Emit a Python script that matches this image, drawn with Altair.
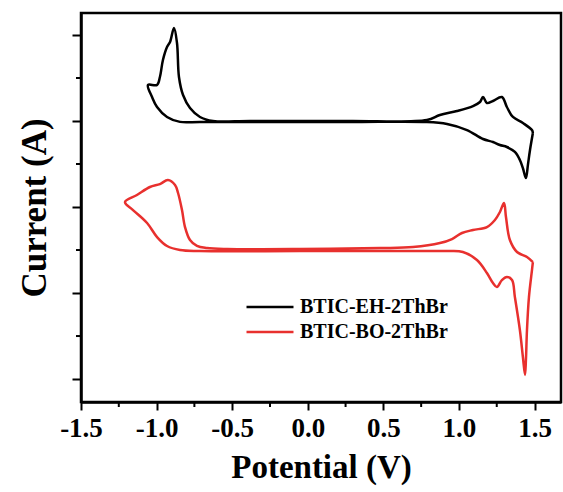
import altair as alt
import pandas as pd

series_names = ["BTIC-EH-2ThBr", "BTIC-BO-2ThBr"]
series_colors = ["#000000", "#e8302e"]

eh_potential = [1.489, 1.470, 1.456, 1.443, 1.423, 1.403, 1.370, 1.317, 1.271, 1.225,
                1.159, 1.053, 0.921, 0.788, 0.279, -0.382, -0.713, -0.845, -0.931, -0.997,
                -1.030, -1.057, -0.997, -0.978, -0.958, -0.931, -0.911, -0.885, -0.865, -0.852,
                -0.825, -0.779, -0.713, -0.627, -0.382, 0.279, 0.788, 0.874, 0.987, 1.093,
                1.139, 1.159, 1.185, 1.225, 1.284, 1.317, 1.357, 1.423, 1.483, 1.489]
eh_current = [2.860, 2.663, 2.488, 2.337, 2.453, 2.547, 2.640, 2.698, 2.721, 2.756,
              2.791, 2.895, 2.965, 2.988, 2.988, 2.988, 2.990, 2.990, 3.047, 3.163,
              3.279, 3.419, 3.419, 3.512, 3.709, 3.860, 3.919, 4.081, 3.907, 3.512,
              3.302, 3.151, 3.047, 3.000, 3.000, 3.000, 3.012, 3.070, 3.116, 3.174,
              3.221, 3.279, 3.209, 3.233, 3.279, 3.163, 3.047, 2.977, 2.895, 2.860]

bo_potential = [1.489, 1.483, 1.463, 1.450, 1.443, 1.437, 1.423, 1.403, 1.370, 1.351,
                1.317, 1.284, 1.251, 1.225, 1.185, 1.119, 1.026, 0.921, 0.478, -0.052,
                -0.713, -0.845, -0.931, -0.997, -1.063, -1.156, -1.209, -1.130, -1.044, -0.978,
                -0.925, -0.878, -0.858, -0.832, -0.812, -0.779, -0.733, -0.667, -0.534, -0.052,
                0.478, 0.696, 0.874, 0.954, 1.020, 1.093, 1.185, 1.238, 1.271, 1.298,
                1.311, 1.337, 1.384, 1.450, 1.489]
bo_current = [1.360, 1.267, 0.953, 0.570, 0.221, 0.047, 0.256, 0.570, 0.953, 1.151,
              1.186, 1.151, 1.070, 1.116, 1.233, 1.384, 1.477, 1.488, 1.488, 1.488,
              1.488, 1.500, 1.547, 1.651, 1.814, 1.965, 2.058, 2.140, 2.233, 2.267,
              2.314, 2.256, 2.163, 1.965, 1.767, 1.616, 1.547, 1.523, 1.512, 1.512,
              1.523, 1.535, 1.581, 1.628, 1.698, 1.733, 1.767, 1.849, 1.942, 2.047,
              1.884, 1.616, 1.477, 1.419, 1.360]

x_major = [-1.5, -1.0, -0.5, 0.0, 0.5, 1.0, 1.5]
x_minor = [-1.25, -0.75, -0.25, 0.25, 0.75, 1.25]
y_major = [0, 1, 2, 3, 4]
y_minor = [0.5, 1.5, 2.5, 3.5]

rows = []
for name, pots, curs in [(series_names[0], eh_potential, eh_current),
                         (series_names[1], bo_potential, bo_current)]:
    for i, (p, c) in enumerate(zip(pots, curs)):
        rows.append({"series": name, "order": i, "potential": p, "current": c})
df = pd.DataFrame(rows)

W, H = 480, 389
FONT = "Liberation Serif"
xscale = alt.Scale(domain=[-1.5, 1.675], nice=False, zero=False)
yscale = alt.Scale(domain=[-0.267, 4.256], nice=False, zero=False)

lines = alt.Chart(df).mark_line(strokeWidth=2.5, strokeJoin="round",
                                interpolate="catmull-rom").encode(
    x=alt.X("potential:Q", scale=xscale,
            axis=alt.Axis(values=x_major, title="Potential (V)",
                          labelExpr="replace(format(datum.value, '.1f'), '\u2212', '-')",
                          labelFlush=False, labelOverlap=False,
                          tickSize=8, tickWidth=2, labelPadding=5,
                          labelFontSize=27, titleFontSize=33, titlePadding=10)),
    y=alt.Y("current:Q", scale=yscale,
            axis=alt.Axis(values=y_major, labels=False, title="Current (A)",
                          tickSize=9, tickWidth=2, titleFontSize=35, titlePadding=19)),
    color=alt.Color("series:N",
                    scale=alt.Scale(domain=series_names, range=series_colors),
                    legend=alt.Legend(orient="none", legendX=176, legendY=281, title=None,
                                      symbolType="M-2,0H2", symbolSize=552,
                                      symbolStrokeWidth=2.5, labelFont=FONT,
                                      labelFontSize=20, labelFontWeight="bold",
                                      labelColor="black", labelOffset=17)),
    order="order:Q",
)

xminor = alt.Chart(pd.DataFrame({"potential": x_minor})).mark_rule(
    color="black", strokeWidth=2).encode(
    x=alt.X("potential:Q", scale=xscale), y=alt.value(H), y2=alt.value(H + 5))

yminor = alt.Chart(pd.DataFrame({"current": y_minor})).mark_rule(
    color="black", strokeWidth=2).encode(
    y=alt.Y("current:Q", scale=yscale), x=alt.value(-5), x2=alt.value(0))

chart = alt.layer(lines, xminor, yminor).properties(
    width=W, height=H,
    padding={"left": 81, "top": 13, "right": 2, "bottom": 90},
    autosize=alt.AutoSizeParams(type="none"),
).configure_view(
    stroke="black", strokeWidth=2.5
).configure_axis(
    grid=False, domainColor="black", domainWidth=2.5, tickColor="black",
    labelFont=FONT, labelFontWeight="bold", labelColor="black",
    titleFont=FONT, titleFontWeight="bold", titleColor="black",
)

chart.save("out.html", embed_options={"renderer": "svg", "actions": False})
